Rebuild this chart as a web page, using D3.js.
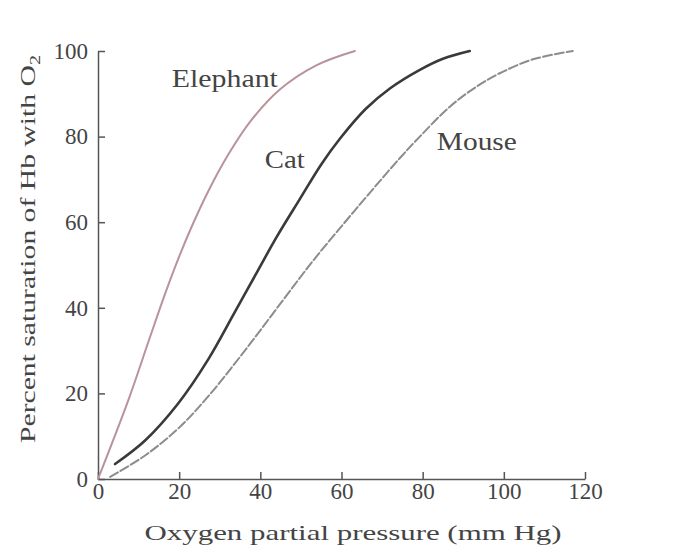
<html>
<head>
  <style>
    body { margin: 0; background-color: white; }
    text { font-family: "Liberation Serif", "Times New Roman", serif; fill: #444; }
  </style>
</head>
<body>
  <div id="mydiv"></div>
  <script src="https://d3js.org/d3.v7.min.js"></script>
<script>

let width = 693, height = 557;

// Data (pressure in mm Hg, saturation in %)
var elephantP = [0, 7.5, 12.4, 16.5, 19.8, 23.1, 27.2, 32.1, 37.5, 44.8, 53.9, 63.3]
var elephantS = [0, 18.5, 32, 43.2, 51.5, 59, 67.3, 75.8, 83.5, 91, 96.7, 100]

var catP = [4.2, 11.6, 19.8, 27.2, 33.6, 38.7, 44, 49.8, 55, 59.6, 66, 72, 79.3, 85, 91.6]
var catS = [3.5, 9, 17.7, 28, 38.8, 47.5, 56.5, 65.5, 73.5, 79.5, 86.5, 91.3, 95.6, 98.2, 100]

var mouseP = [3, 11.6, 20, 27.6, 37.4, 45.6, 53, 60.4, 66.2, 74.4, 79.3, 86.7, 93, 99, 107, 117]
var mouseS = [0.5, 5.5, 12, 19.8, 31.5, 41.8, 51, 59.5, 66, 75, 80, 87, 91.5, 94.8, 98, 100]

var xTicks = [0, 20, 40, 60, 80, 100, 120]
var yTicks = [0, 20, 40, 60, 80, 100]

var seriesNames = ["Elephant", "Cat", "Mouse"]
var labelP = [18.2, 41.1, 83.5]
var labelS = [91.6, 72.7, 76.9]

let svg = d3.select("#mydiv")
  .append("svg")
    .attr("width", width)
    .attr("height", height)

let x = d3.scaleLinear().domain([0, 120]).range([98, 585]);
let y = d3.scaleLinear().domain([0, 100]).range([479, 51]);

// axes
let xAxis = svg.append("g")
  .attr("transform", "translate(0," + y(0) + ")")
  .call(d3.axisBottom(x).tickValues(xTicks).tickSizeInner(-7).tickSizeOuter(0).tickPadding(4));

let yAxis = svg.append("g")
  .attr("transform", "translate(" + x(0) + ",0)")
  .call(d3.axisLeft(y).tickValues(yTicks).tickSizeInner(-7).tickSizeOuter(0).tickPadding(10));

svg.selectAll(".domain, .tick line")
  .attr("stroke", "#555")
  .attr("stroke-width", 1.5);

svg.selectAll(".tick text")
  .style("font-family", "Liberation Serif")
  .style("font-size", "23px")
  .attr("fill", "#444");

// curves
let line = d3.line()
  .x(d => x(d[0]))
  .y(d => y(d[1]))
  .curve(d3.curveCatmullRom.alpha(0.5));

let series = [
  { p: elephantP, s: elephantS, color: "#b9939b", w: 2, dash: null },
  { p: catP, s: catS, color: "#3a3a3a", w: 2.6, dash: null },
  { p: mouseP, s: mouseS, color: "#8c8c8c", w: 2, dash: "9,3" }
];

series.forEach(function (ser) {
  svg.append("path")
    .datum(d3.zip(ser.p, ser.s))
    .attr("d", line)
    .attr("fill", "none")
    .attr("stroke", ser.color)
    .attr("stroke-width", ser.w)
    .attr("stroke-dasharray", ser.dash)
    .attr("stroke-linecap", "round");
});

// curve labels
var labelWidths = [106, 40, 80]
for (let i = 0; i < seriesNames.length; i++) {
  svg.append("text")
    .attr("x", x(labelP[i]))
    .attr("y", y(labelS[i]))
    .style("font-size", "25px")
    .attr("textLength", labelWidths[i])
    .attr("lengthAdjust", "spacingAndGlyphs")
    .text(seriesNames[i]);
}

// axis titles
svg.append("text")
  .attr("x", 353)
  .attr("y", 540)
  .attr("text-anchor", "middle")
  .style("font-size", "22px")
  .attr("textLength", 417)
  .attr("lengthAdjust", "spacingAndGlyphs")
  .text("Oxygen partial pressure (mm Hg)");

let yTitle = svg.append("text")
  .attr("transform", "translate(35,249) rotate(-90)")
  .attr("text-anchor", "middle")
  .style("font-size", "22px")
  .attr("textLength", 388)
  .attr("lengthAdjust", "spacingAndGlyphs");
yTitle.append("tspan").text("Percent saturation of Hb with O");
yTitle.append("tspan").attr("dy", "0.3em").style("font-size", "15px").text("2");

</script>
</body>
</html>
